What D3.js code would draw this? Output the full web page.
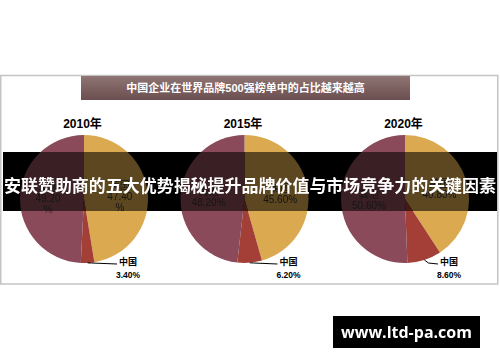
<!DOCTYPE html>
<html>
<head>
<meta charset="utf-8">
<script src="https://cdn.jsdelivr.net/npm/d3@7/dist/d3.min.js"></script>
<style>
  html, body { margin: 0; padding: 0; background: #fff; }
  svg { display: block; }
</style>
</head>
<body>
<svg id="root" width="500" height="362"></svg>
<script>
// ---- data ----
const chartTitle = "中国企业在世界品牌500强榜单中的占比越来越高";
const bannerText = "安联赞助商的五大优势揭秘提升品牌价值与市场竞争力的关键因素";
const watermark = "www.ltd-pa.com";
const years = ["2010年", "2015年", "2020年"];
const categories = ["美国", "中国", "其他"];
const usaShare = [47.4, 45.6, 40.8];
const chinaShare = [3.4, 6.2, 8.6];
const otherShare = [49.2, 48.2, 50.6];
const wrapPercent = [true, false, false];
const colors = ["#dba94f", "#a33f36", "#8a4a5a"];

// ---- layout ----
const svg = d3.select("#root");
const defs = svg.append("defs");

const grad = defs.append("linearGradient").attr("id", "titleGrad")
  .attr("x1", 0).attr("y1", 0).attr("x2", 0).attr("y2", 1);
grad.append("stop").attr("offset", "0%").attr("stop-color", "#8f7574");
grad.append("stop").attr("offset", "100%").attr("stop-color", "#6b4e4f");

const banner = { x: 3, y: 152, w: 494, h: 59 };
defs.append("clipPath").attr("id", "bannerClip")
  .append("rect").attr("x", banner.x).attr("y", banner.y)
  .attr("width", banner.w).attr("height", banner.h);

const chart = svg.append("g").attr("id", "chart");

// frame (no fill so the dimmed copy stays black outside the pies)
chart.append("rect").attr("x", 0.75).attr("y", 75.5).attr("width", 497).attr("height", 208.5)
  .attr("fill", "none").attr("stroke", "#c4c4c4").attr("stroke-width", 1.5);

// title box
chart.append("rect").attr("x", 81).attr("y", 76).attr("width", 329).attr("height", 24)
  .attr("fill", "url(#titleGrad)");
chart.append("text").attr("x", 245.5).attr("y", 88).attr("dy", "0.36em")
  .attr("text-anchor", "middle").attr("fill", "#fff")
  .attr("font-family", "'Liberation Sans', 'Noto Sans CJK SC', sans-serif")
  .attr("font-weight", "bold").attr("font-size", 11).text(chartTitle);

const x = d3.scalePoint().domain(years).range([84, 405]);
const cy = 199, R = 64;
const pie = d3.pie().sort(null).value(d => d.value);
const arc = d3.arc().innerRadius(0).outerRadius(R);
const labelArc = d3.arc().innerRadius(36).outerRadius(36);
const fontFam = "'Liberation Sans', 'Noto Sans CJK SC', sans-serif";

years.forEach((yr, i) => {
  const cx = x(yr);
  const data = [
    { cat: categories[0], value: usaShare[i] },
    { cat: categories[1], value: chinaShare[i] },
    { cat: categories[2], value: otherShare[i] }
  ];
  const g = chart.append("g").attr("transform", `translate(${cx},${cy})`);
  const arcs = pie(data);

  g.selectAll("path").data(arcs).join("path")
    .attr("d", arc).attr("fill", (d, j) => colors[j]);

  // year label
  chart.append("text").attr("x", cx - 1.5).attr("y", 124).attr("dy", "0.36em")
    .attr("text-anchor", "middle").attr("font-family", fontFam)
    .attr("font-weight", "bold").attr("font-size", 12).attr("fill", "#000").text(yr);

  // inside labels (美国, 其他)
  [0, 2].forEach(j => {
    const a = arcs[j];
    const [lx, ly] = labelArc.centroid(a);
    const val = a.data.value.toFixed(2);
    const lines = wrapPercent[i] ? [a.data.cat, val, "%"] : [a.data.cat, val + "%"];
    const t = g.append("text").attr("text-anchor", "middle")
      .attr("font-family", fontFam).attr("font-size", 10).attr("fill", "#333");
    const lh = 11;
    const y0 = ly - (lines.length - 1) * lh / 2;
    lines.forEach((s, k) => {
      t.append("tspan").attr("x", lx).attr("y", y0 + k * lh).attr("dy", "0.36em").text(s);
    });
  });

  // 中国 outside label with leader line
  const c = arcs[1];
  const mid = (c.startAngle + c.endAngle) / 2;
  const px = R * Math.sin(mid), py = -R * Math.cos(mid);
  const tx = 44, ty = 64;
  g.append("polyline")
    .attr("points", [[px, py], [px + 4, ty], [tx - 11, ty + 1]].map(p => p.join(",")).join(" "))
    .attr("fill", "none").attr("stroke", "#000").attr("stroke-width", 1);
  g.append("text").attr("x", tx).attr("y", ty - 1).attr("dy", "0.36em")
    .attr("text-anchor", "middle").attr("font-family", fontFam)
    .attr("font-weight", "bold").attr("font-size", 9).attr("fill", "#000").text(c.data.cat);
  g.append("text").attr("x", tx).attr("y", ty + 12).attr("dy", "0.36em")
    .attr("text-anchor", "middle").attr("font-family", fontFam)
    .attr("font-weight", "bold").attr("font-size", 8.5).attr("fill", "#000")
    .text(c.data.value.toFixed(2) + "%");
});

// banner overlay: black band with a dimmed copy of the chart showing through
svg.append("rect").attr("x", banner.x).attr("y", banner.y)
  .attr("width", banner.w).attr("height", banner.h).attr("fill", "#000");
svg.append("use").attr("href", "#chart").attr("clip-path", "url(#bannerClip)")
  .attr("opacity", 0.42);
svg.append("text").attr("x", 250).attr("y", 186).attr("dy", "0.36em")
  .attr("text-anchor", "middle").attr("fill", "#fff")
  .attr("font-family", "'Noto Sans CJK SC', sans-serif").attr("font-weight", "bold")
  .attr("font-size", 17).attr("textLength", 492).attr("lengthAdjust", "spacingAndGlyphs")
  .text(bannerText);

// watermark
svg.append("rect").attr("x", 333).attr("y", 316).attr("width", 147).attr("height", 32)
  .attr("fill", "#000");
svg.append("text").attr("x", 406.5).attr("y", 332).attr("dy", "0.36em")
  .attr("text-anchor", "middle").attr("fill", "#fff")
  .attr("font-family", "'Open Sans', sans-serif").attr("font-weight", "bold")
  .attr("font-size", 16).text(watermark);
</script>
</body>
</html>
